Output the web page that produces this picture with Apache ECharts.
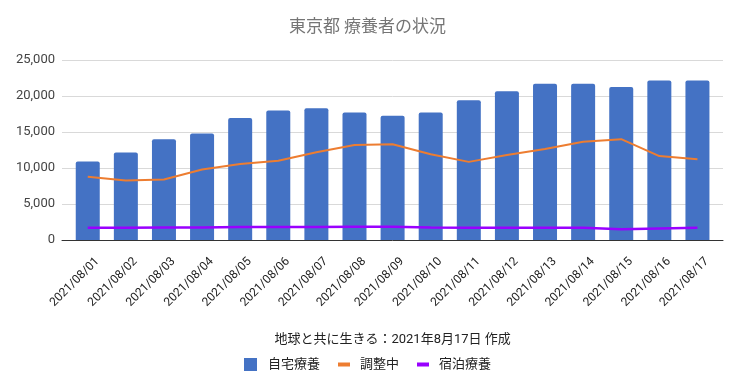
<!DOCTYPE html>
<html>
<head>
<meta charset="utf-8">
<script src="https://cdn.jsdelivr.net/npm/echarts@6/dist/echarts.min.js"></script>
<style>
html,body{margin:0;padding:0;background:#fff;}
#chart{width:735px;height:384px;}
</style>
</head>
<body>
<div id="chart"></div>
<script>
const categories = ['2021/08/01','2021/08/02','2021/08/03','2021/08/04','2021/08/05','2021/08/06','2021/08/07','2021/08/08','2021/08/09','2021/08/10','2021/08/11','2021/08/12','2021/08/13','2021/08/14','2021/08/15','2021/08/16','2021/08/17'];
const homeCare = [10900,12150,14000,14800,16950,18000,18300,17700,17250,17700,19400,20650,21700,21700,21250,22150,22150];
const adjusting = [8800,8250,8400,9800,10550,11000,12200,13200,13300,11900,10850,11800,12650,13650,14000,11650,11200];
const hotelCare = [1700,1700,1750,1750,1800,1800,1800,1850,1850,1750,1700,1700,1700,1700,1500,1600,1700];
const yTicks = [0,5000,10000,15000,20000,25000];
const yTickLabels = ['0','5,000','10,000','15,000','20,000','25,000'];

const FONT = 'Roboto, "Noto Sans CJK JP", sans-serif';
const yMin = yTicks[0], yMax = yTicks[yTicks.length-1], yStep = yTicks[1]-yTicks[0];
function yFmt(value){
  const i = yTicks.indexOf(Number(value));
  return i >= 0 ? yTickLabels[i] : String(value);
}
const chart = echarts.init(document.getElementById('chart'));
chart.setOption({
  animation: false,
  textStyle: {fontFamily: FONT},
  title: {
    text: '東京都 療養者の状況',
    left: 'center',
    top: 14,
    textStyle: {fontSize: 17, fontWeight: 'normal', color: '#757575', fontFamily: FONT}
  },
  grid: [
    {left: 62, right: 12, top: 60, bottom: 144, containLabel: false, outerBoundsMode: 'none'},
    {left: 68.7, right: 18.5, top: 60, bottom: 144, containLabel: false, outerBoundsMode: 'none'}
  ],
  legend: [
    {data: ['自宅療養'], left: 244, top: 358, padding: 0, icon: 'rect', itemWidth: 13, itemHeight: 13,
     textStyle: {fontSize: 13, color: '#222', padding: [0,0,0,6]}},
    {data: ['調整中'], left: 338, top: 358, padding: 0, icon: 'rect', itemWidth: 12, itemHeight: 4,
     textStyle: {fontSize: 13, color: '#222', padding: [0,0,0,5]}},
    {data: ['宿泊療養'], left: 417, top: 358, padding: 0, icon: 'rect', itemWidth: 12, itemHeight: 4,
     textStyle: {fontSize: 13, color: '#222', padding: [0,0,0,5]}}
  ],
  xAxis: [
    {
      gridIndex: 0,
      type: 'category',
      data: categories,
      axisTick: {show: false},
      axisLabel: {show: false},
      axisLine: {lineStyle: {color: '#333', width: 1}},
      z: 5
    },
    {
      gridIndex: 1,
      type: 'category',
      data: categories,
      name: '地球と共に生きる：2021年8月17日 作成',
      nameLocation: 'middle',
      nameGap: 93,
      nameTextStyle: {fontSize: 13, color: '#222'},
      axisTick: {show: false},
      axisLine: {show: false},
      axisLabel: {rotate: 45, fontSize: 12, color: '#222', margin: 10, verticalAlign: 'top', lineHeight: 27, interval: 0}
    }
  ],
  yAxis: [
    {
      gridIndex: 0,
      type: 'value',
      min: yMin, max: yMax, interval: yStep,
      axisLabel: {fontSize: 13, fontFamily: 'Roboto', color: '#444', margin: 7, formatter: yFmt},
      splitLine: {lineStyle: {color: '#d9d9d9'}},
      axisLine: {show: false},
      axisTick: {show: false}
    },
    {
      gridIndex: 1,
      type: 'value',
      min: yMin, max: yMax, interval: yStep,
      axisLabel: {show: false},
      splitLine: {show: false},
      axisLine: {show: false},
      axisTick: {show: false}
    }
  ],
  series: [
    {name: '自宅療養', type: 'bar', xAxisIndex: 1, yAxisIndex: 1, data: homeCare, barWidth: 24,
     itemStyle: {color: '#4472c4', borderRadius: [2,2,0,0]}},
    {name: '調整中', type: 'line', xAxisIndex: 1, yAxisIndex: 1, data: adjusting, symbol: 'none',
     itemStyle: {color: '#ed7d31'}, lineStyle: {width: 2, color: '#ed7d31'}},
    {name: '宿泊療養', type: 'line', xAxisIndex: 1, yAxisIndex: 1, data: hotelCare, symbol: 'none',
     itemStyle: {color: '#9900ff'}, lineStyle: {width: 2.5, color: '#9900ff'}}
  ]
});
</script>
</body>
</html>
